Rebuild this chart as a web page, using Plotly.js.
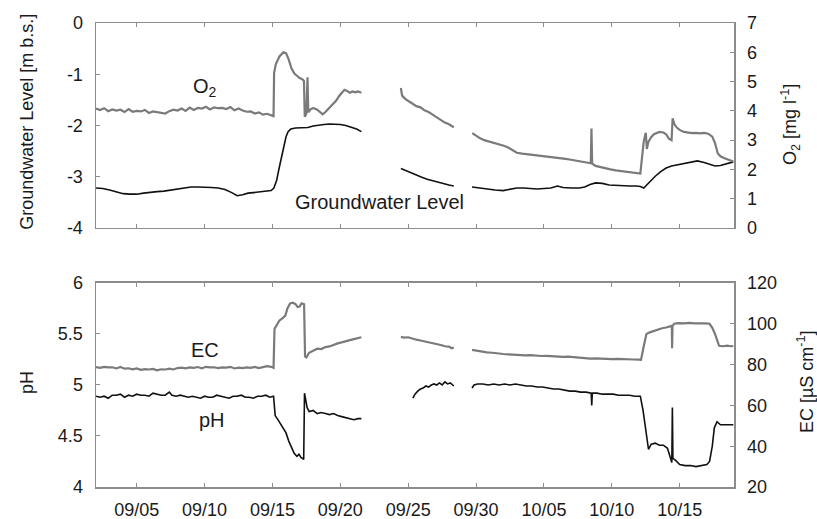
<!DOCTYPE html>
<html>
<head>
<meta charset="utf-8">
<script src="https://cdn.plot.ly/plotly-3.0.1.min.js"></script>
<style>html,body{margin:0;padding:0;background:#fff;}#chart{width:817px;height:519px;}</style>
</head>
<body>
<div id="chart"></div>
<script>
// Time is given as "September day" (fractional); values > 30 are October (31 = Oct 1). null = data gap.
const o2Day = [2.0,2.3,2.6,2.9,3.2,3.5,3.8,4.1,4.4,4.7,5.0,5.3,5.6,5.9,6.2,6.5,6.8,7.1,7.4,7.7,8.0,8.3,8.6,8.9,9.2,9.5,9.8,10.1,10.4,10.7,11.0,11.3,11.6,11.9,12.2,12.5,12.8,13.1,13.4,13.7,14.0,14.3,14.6,14.9,15.08,15.12,15.25,15.5,15.8,16.0,16.2,16.4,16.6,16.8,17.0,17.2,17.32,17.38,17.5,17.58,17.64,17.8,18.0,18.3,18.5,18.7,18.9,19.1,19.3,19.5,19.7,19.9,20.1,20.3,20.5,20.7,20.9,21.1,21.3,21.55,
  null,
  24.46,24.55,24.8,25.0,25.3,25.6,25.9,26.2,26.5,26.8,27.1,27.4,27.7,28.0,28.2,28.36,
  null,
  29.72,30.0,30.3,30.6,30.9,31.2,31.5,31.8,32.1,32.4,32.7,33.0,33.4,33.8,34.2,34.6,35.0,35.4,35.8,36.2,36.6,37.0,37.4,37.8,38.2,38.45,38.5,38.55,38.8,39.1,39.5,39.9,40.3,40.7,41.1,41.5,41.9,42.1,42.2,42.35,42.5,42.58,42.7,42.9,43.1,43.3,43.5,43.8,44.0,44.2,44.4,44.48,44.6,44.8,45.0,45.3,45.6,45.9,46.2,46.5,46.8,47.1,47.4,47.6,47.8,48.0,48.3,48.6,48.95];
const o2Val = [4.08,4.03,4.09,3.99,4.05,4.01,4.04,3.96,4.06,3.97,4.00,3.98,4.03,3.93,3.98,3.95,3.92,3.91,3.99,4.04,4.01,4.08,4.00,4.11,4.03,4.10,4.08,4.14,4.05,4.12,4.09,4.10,4.06,4.13,4.02,4.08,4.01,3.97,3.98,3.91,3.95,3.87,3.90,3.85,3.82,5.30,5.60,5.85,6.00,5.97,5.75,5.45,5.28,5.20,5.12,5.08,5.02,3.80,3.90,5.15,3.95,4.05,4.10,4.04,3.95,3.88,3.96,4.05,4.15,4.25,4.35,4.50,4.62,4.72,4.68,4.62,4.66,4.63,4.66,4.62,
  null,
  4.78,4.52,4.40,4.33,4.25,4.16,4.12,4.02,3.96,3.87,3.78,3.70,3.60,3.54,3.48,3.44,
  null,
  3.24,3.15,3.06,3.00,2.96,2.93,2.88,2.86,2.80,2.74,2.64,2.57,2.54,2.52,2.50,2.47,2.45,2.42,2.40,2.39,2.36,2.33,2.30,2.26,2.24,2.21,3.40,2.20,2.12,2.08,2.04,2.00,1.97,1.95,1.93,1.90,1.87,1.86,2.30,2.95,3.25,2.70,2.95,3.10,3.20,3.25,3.28,3.26,3.20,3.05,3.00,3.75,3.55,3.42,3.35,3.28,3.26,3.24,3.25,3.23,3.25,3.22,3.12,2.90,2.55,2.45,2.38,2.32,2.27];

const gwDay = [2.0,2.5,3.0,3.5,4.0,4.5,5.0,5.5,6.0,6.5,7.0,7.5,8.0,8.5,9.0,9.5,10.0,10.5,11.0,11.5,12.0,12.4,12.8,13.2,13.6,14.0,14.5,14.9,15.1,15.3,15.5,15.7,15.85,16.0,16.15,16.35,16.7,17.2,17.6,18.0,18.4,18.8,19.2,19.6,20.0,20.4,20.8,21.2,21.55,
  null,
  24.46,24.8,25.2,25.6,26.0,26.4,26.8,27.2,27.6,28.0,28.36,
  null,
  29.7,30.2,30.8,31.4,32.0,32.5,33.0,33.5,34.0,34.5,35.0,35.5,36.0,36.4,37.0,37.6,38.0,38.4,38.8,39.3,39.8,40.3,40.8,41.3,41.8,42.1,42.35,42.6,42.9,43.2,43.6,44.0,44.4,44.9,45.4,45.9,46.3,46.8,47.2,47.6,48.0,48.4,48.95];
const gwVal = [-3.22,-3.23,-3.26,-3.30,-3.33,-3.34,-3.34,-3.32,-3.30,-3.29,-3.28,-3.26,-3.23,-3.21,-3.20,-3.20,-3.20,-3.21,-3.22,-3.25,-3.31,-3.37,-3.35,-3.32,-3.31,-3.30,-3.29,-3.27,-3.22,-3.08,-2.82,-2.58,-2.38,-2.22,-2.12,-2.07,-2.05,-2.05,-2.04,-2.01,-1.99,-1.98,-1.97,-1.97,-1.98,-2.00,-2.03,-2.07,-2.12,
  null,
  -2.84,-2.88,-2.93,-2.97,-3.01,-3.05,-3.08,-3.11,-3.14,-3.16,-3.18,
  null,
  -3.20,-3.22,-3.24,-3.26,-3.27,-3.25,-3.22,-3.22,-3.23,-3.24,-3.23,-3.22,-3.18,-3.21,-3.22,-3.22,-3.20,-3.15,-3.12,-3.13,-3.16,-3.17,-3.18,-3.18,-3.18,-3.19,-3.22,-3.15,-3.06,-2.99,-2.90,-2.83,-2.79,-2.76,-2.74,-2.71,-2.69,-2.72,-2.76,-2.79,-2.78,-2.75,-2.71];

const ecDay = [2.0,2.3,2.6,2.9,3.2,3.5,3.8,4.1,4.4,4.7,5.0,5.3,5.6,5.9,6.2,6.5,6.8,7.1,7.4,7.7,8.0,8.3,8.6,8.9,9.2,9.5,9.8,10.1,10.4,10.7,11.0,11.3,11.6,11.9,12.2,12.5,12.8,13.1,13.4,13.7,14.0,14.3,14.6,14.9,15.08,15.15,15.3,15.5,15.75,15.95,16.1,16.3,16.5,16.7,16.85,17.0,17.15,17.33,17.4,17.5,17.7,18.0,18.3,18.6,18.9,19.2,19.5,19.8,20.1,20.4,20.7,21.0,21.3,21.55,
  null,
  24.46,24.7,25.0,25.3,25.6,25.9,26.2,26.5,26.8,27.1,27.4,27.7,28.0,28.2,28.36,
  null,
  29.7,30.0,30.4,30.8,31.2,31.6,32.0,32.4,32.8,33.2,33.6,34.0,34.4,34.8,35.2,35.6,36.0,36.4,36.8,37.2,37.6,38.0,38.4,38.8,39.2,39.6,40.0,40.4,40.8,41.2,41.6,42.0,42.15,42.35,42.55,42.8,43.1,43.4,43.7,44.0,44.3,44.42,44.44,44.47,44.6,44.9,45.3,45.7,46.1,46.5,46.9,47.2,47.4,47.6,47.75,47.9,48.2,48.5,48.75,48.95];
const ecVal = [78.8,78.4,78.9,78.6,78.7,78.1,78.8,78.0,78.2,77.7,78.1,77.4,77.8,77.6,77.9,77.2,77.7,77.6,78.0,77.6,78.3,78.5,78.2,78.6,78.4,78.8,78.2,78.9,78.6,78.7,78.3,78.6,78.5,78.9,78.1,78.5,78.3,78.6,78.4,78.9,78.3,78.7,79.2,78.9,78.4,97.5,99.5,101.5,102.8,104.0,107.5,110.0,110.3,109.6,108.2,108.5,110.0,109.6,84.0,83.5,85.8,86.8,87.8,87.6,88.6,88.9,89.8,90.4,90.9,91.6,92.0,92.5,93.2,93.4,
  null,
  93.6,93.2,93.4,92.6,92.2,91.8,91.4,90.9,90.5,90.0,89.6,89.0,88.8,88.0,88.4,
  null,
  87.2,86.8,86.2,86.0,85.8,85.4,85.2,85.0,84.8,84.6,84.5,84.6,84.3,84.2,84.3,84.1,83.9,83.8,83.9,83.6,83.4,83.1,82.9,83.0,82.8,82.8,82.7,82.8,82.6,82.6,82.5,82.4,82.3,89.0,95.0,95.8,96.5,97.2,97.8,98.2,98.6,99.0,88.0,99.0,100.0,100.3,100.2,100.4,100.2,100.3,100.2,100.0,98.0,95.0,92.0,89.2,89.0,89.3,89.0,89.1];

const phDay = [2.0,2.3,2.6,2.9,3.2,3.5,3.8,4.1,4.4,4.7,5.0,5.3,5.6,5.9,6.2,6.5,6.8,7.1,7.4,7.6,7.9,8.2,8.5,8.8,9.1,9.4,9.7,10.0,10.3,10.6,10.9,11.2,11.5,11.8,12.1,12.4,12.7,13.0,13.3,13.6,13.9,14.2,14.5,14.8,15.08,15.12,15.2,15.4,15.6,15.8,16.0,16.2,16.4,16.6,16.8,16.95,17.1,17.3,17.36,17.48,17.55,17.7,18.0,18.3,18.6,18.9,19.2,19.5,19.8,20.1,20.4,20.7,21.0,21.3,21.55,
  null,
  25.34,25.5,25.7,25.9,26.1,26.3,26.5,26.7,26.9,27.1,27.3,27.5,27.7,27.9,28.1,28.36,
  null,
  29.7,29.85,30.1,30.5,30.9,31.3,31.7,32.1,32.5,32.9,33.3,33.7,34.1,34.5,34.9,35.3,35.7,36.1,36.5,36.9,37.3,37.7,38.1,38.48,38.52,38.56,38.9,39.3,39.7,40.1,40.5,40.9,41.3,41.7,42.1,42.3,42.5,42.7,42.9,43.2,43.5,43.8,44.1,44.3,44.42,44.46,44.5,44.7,45.0,45.4,45.8,46.2,46.6,47.0,47.2,47.4,47.55,47.75,48.0,48.4,48.95];
const phVal = [4.89,4.88,4.89,4.87,4.90,4.90,4.91,4.88,4.90,4.89,4.91,4.90,4.90,4.89,4.92,4.91,4.90,4.90,4.93,4.90,4.89,4.90,4.89,4.88,4.89,4.88,4.87,4.89,4.88,4.88,4.90,4.89,4.88,4.87,4.89,4.89,4.90,4.88,4.88,4.87,4.89,4.89,4.90,4.88,4.89,4.80,4.70,4.66,4.62,4.57,4.53,4.45,4.38,4.33,4.30,4.32,4.29,4.27,4.92,4.85,4.78,4.74,4.75,4.72,4.73,4.72,4.71,4.72,4.70,4.69,4.68,4.67,4.66,4.67,4.67,
  null,
  4.87,4.91,4.94,4.96,4.97,4.99,4.98,5.00,5.01,5.00,5.02,5.00,5.03,5.01,5.02,4.99,
  null,
  4.97,5.00,5.01,5.01,5.00,5.01,5.00,5.01,5.00,5.01,5.00,4.99,4.99,4.98,4.98,4.97,4.96,4.96,4.95,4.94,4.94,4.93,4.93,4.92,4.80,4.92,4.92,4.91,4.91,4.91,4.90,4.90,4.90,4.89,4.89,4.75,4.55,4.37,4.42,4.43,4.41,4.41,4.38,4.30,4.24,4.78,4.28,4.26,4.22,4.21,4.21,4.20,4.21,4.22,4.25,4.40,4.58,4.64,4.61,4.61,4.61];

const xTickStart = 5;   // first labelled tick: 09/05
const xRangeDays = [2, 49]; // Sep 2 .. Oct 19

function sd(s){
  if (s === null) return null;
  const t = Date.UTC(2013, 8, 1) + Math.round((s - 1) * 1440) * 60000;
  return new Date(t).toISOString().slice(0,16).replace('T',' ');
}

const GRAY = '#7a7a7a', BLACK = '#111111';
const traces = [
  {x: ecDay.map(sd), y: ecVal, xaxis:'x', yaxis:'y2', mode:'lines', line:{color:GRAY, width:2.2}, connectgaps:false},
  {x: phDay.map(sd), y: phVal, xaxis:'x', yaxis:'y', mode:'lines', line:{color:BLACK, width:1.6}, connectgaps:false},
  {x: o2Day.map(sd), y: o2Val, xaxis:'x2', yaxis:'y4', mode:'lines', line:{color:GRAY, width:2.2}, connectgaps:false},
  {x: gwDay.map(sd), y: gwVal, xaxis:'x2', yaxis:'y3', mode:'lines', line:{color:BLACK, width:1.6}, connectgaps:false}
];

const FRAME = '#8c8c8c';
const baseAx = {showgrid:false, zeroline:false, showline:true, linecolor:FRAME, linewidth:1.5,
  ticks:'inside', ticklen:4, tickwidth:1, tickcolor:FRAME, tickfont:{size:18, color:'#1a1a1a'}};
const xAx = Object.assign({}, baseAx, {type:'date', range:[sd(xRangeDays[0]), sd(xRangeDays[1])],
  tick0: sd(xTickStart), dtick: 5*86400000, tickformat:'%m/%d', mirror:'ticks', ticklabelstandoff:6});

const layout = {
  width:817, height:519, margin:{l:96, r:83, t:23, b:32}, showlegend:false,
  paper_bgcolor:'#ffffff', plot_bgcolor:'#ffffff',
  font:{family:'Liberation Sans, Arial, sans-serif', size:18, color:'#1a1a1a'},
  xaxis: Object.assign({}, xAx, {anchor:'y', domain:[0,1]}),
  xaxis2: Object.assign({}, xAx, {anchor:'y3', domain:[0,1], showticklabels:false, matches:'x'}),
  yaxis: Object.assign({}, baseAx, {domain:[0,0.4397], range:[4,6], dtick:0.5, anchor:'x', side:'left', ticklabelstandoff:8}),
  yaxis2: Object.assign({}, baseAx, {overlaying:'y', range:[20,120], dtick:20, anchor:'x', side:'right', ticklabelstandoff:8}),
  yaxis3: Object.assign({}, baseAx, {domain:[0.5582,1], range:[-4,0], tickvals:[0,-1,-2,-3,-4], ticktext:['0','-1','-2','-3','-4'], anchor:'x2', side:'left', ticklabelstandoff:8}),
  yaxis4: Object.assign({}, baseAx, {overlaying:'y3', range:[0,7], dtick:1, anchor:'x2', side:'right', ticklabelstandoff:8}),
  annotations:[
    {text:'O<sub>2</sub>', xref:'x2', yref:'y3', x:sd(10.03), y:-1.25, showarrow:false, font:{size:20}},
    {text:'Groundwater Level', xref:'x2', yref:'y3', x:sd(22.9), y:-3.49, showarrow:false, font:{size:20}},
    {text:'EC', xref:'x', yref:'y', x:sd(10.03), y:5.34, showarrow:false, font:{size:20}},
    {text:'pH', xref:'x', yref:'y', x:sd(10.54), y:4.66, showarrow:false, font:{size:20}},
    {text:'Groundwater Level [m b.s.]', xref:'paper', yref:'paper', x:-0.1082, y:0.787, textangle:-90, showarrow:false, xanchor:'center', yanchor:'middle', font:{size:18}},
    {text:'O<sub>2</sub> [mg l<sup>-1</sup>]', xref:'paper', yref:'paper', x:1.0878, y:0.780, textangle:-90, showarrow:false, xanchor:'center', yanchor:'middle', font:{size:18}},
    {text:'pH', xref:'paper', yref:'paper', x:-0.1082, y:0.2263, textangle:-90, showarrow:false, xanchor:'center', yanchor:'middle', font:{size:18}},
    {text:'EC [µS cm<sup>-1</sup>]', xref:'paper', yref:'paper', x:1.1129, y:0.2263, textangle:-90, showarrow:false, xanchor:'center', yanchor:'middle', font:{size:18}}
  ]
};

Plotly.newPlot('chart', traces, layout, {staticPlot:true, displayModeBar:false});
</script>
</body>
</html>
